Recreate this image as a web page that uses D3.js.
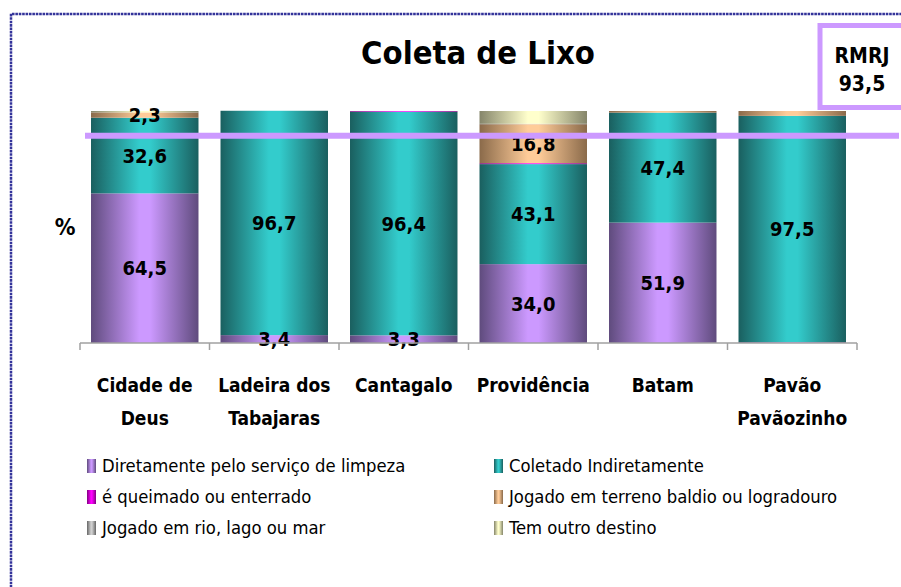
<!DOCTYPE html>
<html>
<head>
<meta charset="utf-8">
<script src="https://cdn.jsdelivr.net/npm/d3@7"></script>
<style>
  body { margin: 0; background: #fff; }
  svg { display: block; font-family: "DejaVu Sans Condensed", "DejaVu Sans", sans-serif; }
</style>
</head>
<body>
<svg width="901" height="587"></svg>
<script>
// categorias (favelas) e séries
const categories = [["Cidade de", "Deus"], ["Ladeira dos", "Tabajaras"], ["Cantagalo"], ["Providência"], ["Batam"], ["Pavão", "Pavãozinho"]];
const seriesNames = [
  "Diretamente pelo serviço de limpeza",
  "Coletado Indiretamente",
  "é queimado ou enterrado",
  "Jogado em terreno baldio ou logradouro",
  "Jogado em rio, lago ou mar",
  "Tem outro destino"
];
// valores (%)
const diretamente = [64.5, 3.4, 3.3, 34.0, 51.9, 0.4];
const indireto    = [32.6, 96.7, 96.4, 43.1, 47.4, 97.5];
const queimado    = [0.0, 0.0, 0.3, 0.4, 0.0, 0.0];
const terreno     = [2.3, 0.0, 0.0, 16.8, 0.7, 2.1];
const rio         = [0.0, 0.0, 0.0, 0.2, 0.0, 0.0];
const outro       = [0.6, 0.0, 0.0, 5.5, 0.0, 0.0];
const rmrj = 93.5;          // valor mostrado na caixa
const rmrjLinha = 89.3;     // altura onde a linha aparece no original
const labeledSeries = [0, 1, 3]; // séries com rótulo de valor

const seriesValues = [diretamente, indireto, queimado, terreno, rio, outro];
// cores [borda escura, centro claro]
const colors = [
  ["#5f4b7d", "#cc99ff"],
  ["#1a5f5f", "#33cccc"],
  ["#800080", "#ff00ff"],
  ["#8a6a4a", "#ffcc99"],
  ["#666666", "#d0d0d0"],
  ["#85856a", "#ffffcc"]
];

const svg = d3.select("svg");
const defs = svg.append("defs");

colors.forEach((c, i) => {
  const g = defs.append("linearGradient").attr("id", "grad" + i)
      .attr("x1", "0%").attr("x2", "100%").attr("y1", "0%").attr("y2", "0%");
  g.append("stop").attr("offset", "0%").attr("stop-color", c[0]);
  g.append("stop").attr("offset", "45%").attr("stop-color", c[1]);
  g.append("stop").attr("offset", "55%").attr("stop-color", c[1]);
  g.append("stop").attr("offset", "100%").attr("stop-color", c[0]);
});

// borda pontilhada
svg.append("path")
    .attr("d", "M11,600 L11,14 L910,14")
    .attr("fill", "none")
    .attr("stroke", "#33339a")
    .attr("stroke-width", 2.5)
    .attr("stroke-dasharray", "0.1 3.3")
    .attr("stroke-linecap", "square");

const x = d3.scaleBand()
    .domain(d3.range(categories.length))
    .range([80, 857])
    .paddingInner(0.17)
    .paddingOuter(0.085);

const y = d3.scaleLinear().domain([0, 100]).range([343, 111]);

// empilhamento
const table = categories.map((c, i) => {
  const row = { i };
  seriesValues.forEach((s, k) => row["s" + k] = s[i]);
  return row;
});
const stack = d3.stack().keys(seriesValues.map((s, k) => "s" + k))(table);

const layers = svg.append("g").selectAll("g")
    .data(stack)
    .join("g")
    .attr("fill", (d, k) => `url(#grad${k})`);

layers.selectAll("rect")
    .data(d => d)
    .join("rect")
    .attr("x", d => x(d.data.i))
    .attr("width", x.bandwidth())
    .attr("y", d => y(d[1]))
    .attr("height", d => Math.max(0, y(d[0]) - y(d[1])));

// rótulos dos valores
const fmt = v => d3.format(".1f")(v).replace(".", ",");
stack.filter((l, k) => labeledSeries.includes(k)).forEach(layer => {
  svg.append("g").selectAll("text")
      .data(layer.filter(d => d[1] - d[0] >= 2.25))
      .join("text")
      .attr("x", d => x(d.data.i) + x.bandwidth() / 2)
      .attr("y", d => (y(d[0]) + y(d[1])) / 2)
      .attr("dy", "0.36em")
      .attr("text-anchor", "middle")
      .attr("font-weight", "bold")
      .attr("font-size", 20)
      .text(d => fmt(d[1] - d[0]));
});

// eixo x
const axisY = y(0);
svg.append("line")
    .attr("x1", 80).attr("x2", 857)
    .attr("y1", axisY).attr("y2", axisY)
    .attr("stroke", "#a0a0a0").attr("stroke-width", 1.5);
svg.append("g").selectAll("line")
    .data(d3.range(categories.length + 1))
    .join("line")
    .attr("x1", d => 80 + d * x.step())
    .attr("x2", d => 80 + d * x.step())
    .attr("y1", axisY).attr("y2", axisY + 7)
    .attr("stroke", "#a0a0a0").attr("stroke-width", 1.5);

svg.append("g").selectAll("text")
    .data(categories)
    .join("text")
    .attr("x", (d, i) => x(i) + x.bandwidth() / 2)
    .attr("y", 392)
    .attr("text-anchor", "middle")
    .attr("font-weight", "bold")
    .attr("font-size", 19)
    .selectAll("tspan")
    .data(d => d)
    .join("tspan")
    .attr("x", function () { return this.parentNode.getAttribute("x"); })
    .attr("dy", (d, j) => j === 0 ? 0 : 33)
    .text(d => d);

// eixo y: "%"
svg.append("text")
    .attr("x", 65).attr("y", 235)
    .attr("text-anchor", "middle")
    .attr("font-weight", "bold")
    .attr("font-size", 23)
    .text("%");

// título
svg.append("text")
    .attr("x", 478).attr("y", 64)
    .attr("text-anchor", "middle")
    .attr("font-weight", "bold")
    .attr("font-size", 32.5)
    .text("Coleta de Lixo");

// linha RMRJ
svg.append("line")
    .attr("x1", 85).attr("x2", 899)
    .attr("y1", y(rmrjLinha)).attr("y2", y(rmrjLinha))
    .attr("stroke", "#cc99ff").attr("stroke-width", 6);

// caixa RMRJ
svg.append("rect")
    .attr("x", 820).attr("y", 25.5)
    .attr("width", 100).attr("height", 82)
    .attr("fill", "#fff")
    .attr("stroke", "#cc99ff").attr("stroke-width", 5);
svg.append("text")
    .attr("x", 862).attr("y", 63)
    .attr("text-anchor", "middle")
    .attr("font-weight", "bold").attr("font-size", 21)
    .text("RMRJ");
svg.append("text")
    .attr("x", 862).attr("y", 91)
    .attr("text-anchor", "middle")
    .attr("font-weight", "bold").attr("font-size", 21)
    .text(fmt(rmrj));

// legenda
const legend = svg.append("g").selectAll("g")
    .data(seriesNames)
    .join("g")
    .attr("transform", (d, i) => `translate(${i % 2 === 0 ? 87 : 494},${466 + Math.floor(i / 2) * 31})`);
legend.append("rect")
    .attr("x", 0).attr("y", -7)
    .attr("width", 9).attr("height", 14)
    .attr("fill", (d, i) => `url(#grad${i})`);
legend.append("text")
    .attr("x", 15).attr("y", 0)
    .attr("dy", "0.35em")
    .attr("font-size", 18.3)
    .text(d => d);
</script>
</body>
</html>
